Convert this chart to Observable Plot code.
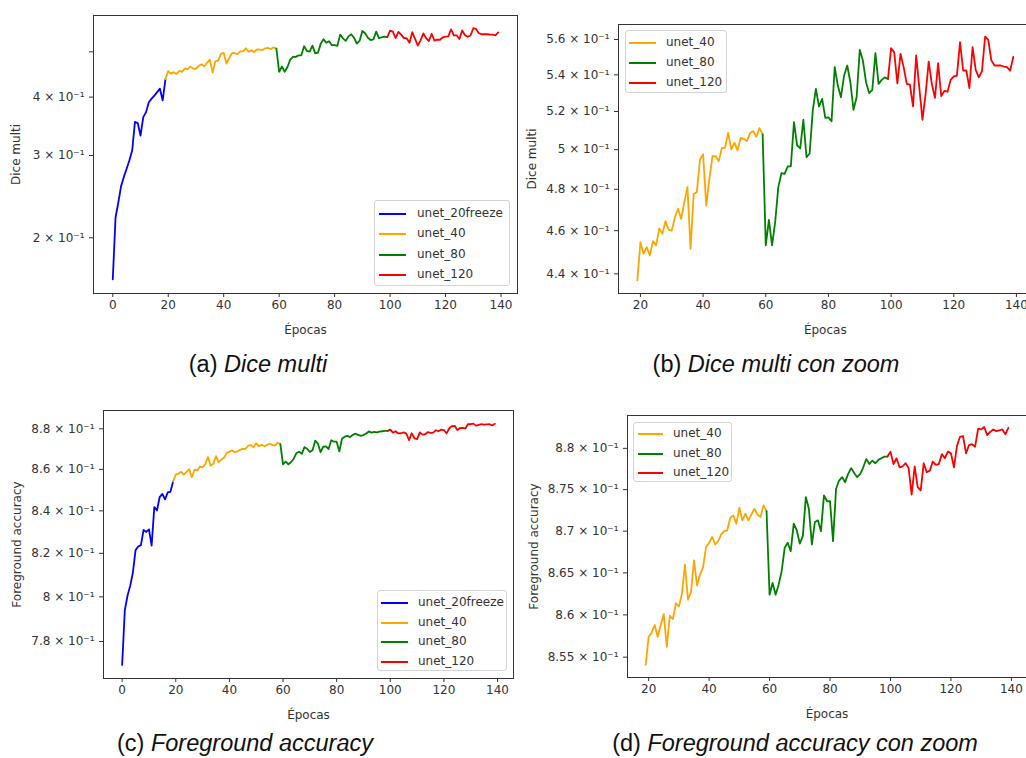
<!DOCTYPE html>
<html>
<head>
<meta charset="utf-8">
<script src="https://cdn.jsdelivr.net/npm/d3@7"></script>
<script src="https://cdn.jsdelivr.net/npm/@observablehq/plot@0.6"></script>
<style>
html,body{margin:0;padding:0;background:#fff;width:1026px;height:758px;overflow:hidden;}
#root{position:relative;width:1026px;height:758px;overflow:hidden;background:#fff;}
.panel{position:absolute;}
.panel svg{max-width:none !important;}
.legend{position:absolute;box-sizing:border-box;border:1px solid #d4d4d4;border-radius:3px;background:rgba(255,255,255,0.85);font-family:"DejaVu Sans";font-size:12px;color:#333;}
.legend .sw{position:absolute;height:2px;}
.legend .lt{position:absolute;line-height:14px;white-space:nowrap;}
.caption{position:absolute;font-family:"Liberation Sans";font-size:23.5px;line-height:28px;color:#111;white-space:nowrap;transform:translateX(-50%);}
</style>
</head>
<body>
<div id="root"></div>
<script>
// ---------- data ----------
const seriesNames = ["unet_20freeze", "unet_40", "unet_80", "unet_120"];
const seriesColors = ["blue", "orange", "green", "red"];
const seriesStart = [0, 19, 59, 99];

const xTicks = [0, 20, 40, 60, 80, 100, 120, 140];

// Dice multi
const diceFreeze = [0.163, 0.221, 0.238, 0.258, 0.270, 0.281, 0.293, 0.3075, 0.354, 0.352, 0.331, 0.3625, 0.3715, 0.390, 0.397, 0.403, 0.410, 0.417, 0.3935, 0.437];
const dice40 = [0.4370, 0.4546, 0.4492, 0.4523, 0.4484, 0.4551, 0.4531, 0.4610, 0.4586, 0.4645, 0.4604, 0.4600, 0.4664, 0.4705, 0.4656, 0.4737, 0.4811, 0.4515, 0.4777, 0.4786, 0.4948, 0.4976, 0.4720, 0.4852, 0.4966, 0.4966, 0.4941, 0.5009, 0.5009, 0.5087, 0.5001, 0.5036, 0.4996, 0.5061, 0.5056, 0.5044, 0.5087, 0.5096, 0.5067, 0.5112, 0.5079];
const dice80 = [0.5079, 0.4531, 0.4651, 0.4531, 0.4640, 0.4811, 0.4880, 0.4877, 0.4914, 0.4915, 0.5143, 0.5022, 0.5006, 0.5156, 0.4961, 0.4980, 0.5206, 0.5322, 0.5227, 0.5268, 0.5166, 0.5169, 0.5148, 0.5443, 0.5341, 0.5277, 0.5396, 0.5452, 0.5359, 0.5209, 0.5277, 0.5541, 0.5480, 0.5359, 0.5299, 0.5317, 0.5522, 0.5350, 0.5372, 0.5386, 0.5377];
const dice120 = [0.5377, 0.5550, 0.5526, 0.5352, 0.5518, 0.5443, 0.5350, 0.5346, 0.5227, 0.5509, 0.5330, 0.5156, 0.5292, 0.5474, 0.5350, 0.5273, 0.5465, 0.5283, 0.5311, 0.5307, 0.5372, 0.5391, 0.5396, 0.5585, 0.5424, 0.5424, 0.5327, 0.5556, 0.5428, 0.5386, 0.5420, 0.5617, 0.5598, 0.5481, 0.5452, 0.5452, 0.5452, 0.5446, 0.5443, 0.5424, 0.5500];

// Foreground accuracy
const fgFreeze = [0.7697, 0.7940, 0.8005, 0.8050, 0.8110, 0.8215, 0.8232, 0.8238, 0.8310, 0.8300, 0.8312, 0.8236, 0.8418, 0.8402, 0.8466, 0.8481, 0.8455, 0.8488, 0.8491, 0.8541];
const fg40 = [0.8541, 0.8574, 0.8579, 0.8588, 0.8574, 0.8588, 0.8601, 0.8562, 0.8599, 0.8595, 0.8614, 0.8610, 0.8625, 0.8660, 0.8618, 0.8627, 0.8665, 0.8635, 0.8648, 0.8657, 0.8681, 0.8686, 0.8693, 0.8684, 0.8688, 0.8696, 0.8700, 0.8701, 0.8716, 0.8719, 0.8709, 0.8728, 0.8713, 0.8721, 0.8713, 0.8720, 0.8727, 0.8720, 0.8717, 0.8731, 0.8724];
const fg80 = [0.8724, 0.8624, 0.8638, 0.8624, 0.8636, 0.8652, 0.8680, 0.8686, 0.8676, 0.8709, 0.8701, 0.8685, 0.8694, 0.8741, 0.8727, 0.8684, 0.8711, 0.8713, 0.8700, 0.8743, 0.8736, 0.8736, 0.8688, 0.8751, 0.8761, 0.8765, 0.8759, 0.8769, 0.8776, 0.8770, 0.8765, 0.8769, 0.8777, 0.8787, 0.8781, 0.8785, 0.8782, 0.8786, 0.8788, 0.8790, 0.8790];
const fg120 = [0.8790, 0.8796, 0.8781, 0.8788, 0.8777, 0.8778, 0.8782, 0.8776, 0.8744, 0.8778, 0.8753, 0.8749, 0.8782, 0.8771, 0.8773, 0.8784, 0.8780, 0.8781, 0.8793, 0.8788, 0.8796, 0.8794, 0.8777, 0.8803, 0.8814, 0.8815, 0.8794, 0.8804, 0.8805, 0.8802, 0.8824, 0.8823, 0.8826, 0.8816, 0.8820, 0.8823, 0.8821, 0.8822, 0.8823, 0.8817, 0.8825];

// y tick values and labels
const diceTicksA = [0.2, 0.3, 0.4];
const diceLabelsA = ["2 × 10⁻¹", "3 × 10⁻¹", "4 × 10⁻¹"];
const diceMinorA = [0.5];
const diceTicksB = [0.44, 0.46, 0.48, 0.50, 0.52, 0.54, 0.56];
const diceLabelsB = ["4.4 × 10⁻¹", "4.6 × 10⁻¹", "4.8 × 10⁻¹", "5 × 10⁻¹", "5.2 × 10⁻¹", "5.4 × 10⁻¹", "5.6 × 10⁻¹"];
const fgTicksC = [0.78, 0.80, 0.82, 0.84, 0.86, 0.88];
const fgLabelsC = ["7.8 × 10⁻¹", "8 × 10⁻¹", "8.2 × 10⁻¹", "8.4 × 10⁻¹", "8.6 × 10⁻¹", "8.8 × 10⁻¹"];
const fgTicksD = [0.855, 0.86, 0.865, 0.87, 0.875, 0.88];
const fgLabelsD = ["8.55 × 10⁻¹", "8.6 × 10⁻¹", "8.65 × 10⁻¹", "8.7 × 10⁻¹", "8.75 × 10⁻¹", "8.8 × 10⁻¹"];

const captions = [
  ["(a) ", "Dice multi"],
  ["(b) ", "Dice multi con zoom"],
  ["(c) ", "Foreground accuracy"],
  ["(d) ", "Foreground accuracy con zoom"]
];

// ---------- helpers ----------
const root = document.getElementById("root");
const toRows = (vals, si) => vals.map((v, i) => ({epoch: seriesStart[si] + i, value: v}));

function panel(o) {
  const xt = xTicks.filter(t => t >= o.xDomain[0] && t <= o.xDomain[1]);
  const marks = [Plot.frame({stroke: "#333", strokeWidth: 1})];
  marks.push(Plot.axisX({ticks: xt, tickSize: 4, tickPadding: 3, fontSize: 12,
    label: "Épocas", labelAnchor: "center", labelArrow: "none", labelOffset: o.xLabelOffset}));
  marks.push(Plot.axisY({ticks: o.yTicks.concat(o.yMinor || []), tickFormat: () => "", tickSize: 4, fontSize: 12,
    label: o.ylabel, labelAnchor: "center", labelArrow: "none", labelOffset: o.yLabelOffset}));
  marks.push(Plot.text(o.yTicks, {y: d => d, text: (d, i) => o.yLabels[i], frameAnchor: "left",
    textAnchor: "end", dx: -9, fontSize: 12, fill: "#333"}));
  o.series.forEach(([vals, si]) => {
    marks.push(Plot.line(toRows(vals, si), {x: "epoch", y: "value", stroke: seriesColors[si], strokeWidth: 1.8}));
  });
  const svg = Plot.plot({
    width: o.width, height: o.height,
    marginTop: o.mt, marginRight: o.mr, marginBottom: o.mb, marginLeft: o.ml,
    x: {domain: o.xDomain},
    y: {type: "log", domain: o.yDomain},
    style: {fontFamily: "DejaVu Sans", fontSize: "12px", color: "#333", background: "transparent", overflow: "visible", maxWidth: "none"},
    marks
  });
  const div = document.createElement("div");
  div.className = "panel";
  div.style.left = o.left + "px";
  div.style.top = o.top + "px";
  div.style.width = o.width + "px";
  div.style.height = o.height + "px";
  div.appendChild(svg);
  root.appendChild(div);
}

function legend(o) {
  const box = document.createElement("div");
  box.className = "legend";
  Object.assign(box.style, {left: o.left + "px", top: o.top + "px", width: o.w + "px", height: o.h + "px"});
  o.items.forEach((si, k) => {
    const cy = o.first + k * o.step;
    const sw = document.createElement("div");
    sw.className = "sw";
    Object.assign(sw.style, {left: o.lx + "px", width: o.ll + "px", top: (cy - 1) + "px", background: seriesColors[si]});
    const t = document.createElement("div");
    t.className = "lt";
    t.textContent = seriesNames[si];
    Object.assign(t.style, {left: o.tx + "px", top: (cy - 8) + "px"});
    box.appendChild(sw);
    box.appendChild(t);
  });
  root.appendChild(box);
}

function caption(k, cx, top) {
  const d = document.createElement("div");
  d.className = "caption";
  d.style.left = cx + "px";
  d.style.top = top + "px";
  const a = document.createElement("span");
  a.textContent = captions[k][0];
  const b = document.createElement("i");
  b.textContent = captions[k][1];
  d.appendChild(a); d.appendChild(b);
  root.appendChild(d);
}

// ---------- panels ----------
panel({left: 0, top: 0, width: 530, height: 340, mt: 15, mr: 13, mb: 47, ml: 93,
  xDomain: [-6.95, 145.95], yDomain: [0.152, 0.598],
  yTicks: diceTicksA, yLabels: diceLabelsA, yMinor: diceMinorA,
  ylabel: "Dice multi", yLabelOffset: 82, xLabelOffset: 40,
  series: [[diceFreeze, 0], [dice40, 1], [dice80, 2], [dice120, 3]]});

panel({left: 520, top: 0, width: 520, height: 340, mt: 24, mr: 8.4, mb: 47, ml: 98,
  xDomain: [13, 145], yDomain: [0.4312, 0.5687],
  yTicks: diceTicksB, yLabels: diceLabelsB,
  ylabel: "Dice multi", yLabelOffset: 91, xLabelOffset: 40,
  series: [[dice40, 1], [dice80, 2], [dice120, 3]]});

panel({left: 0, top: 380, width: 530, height: 345, mt: 30, mr: 17, mb: 47, ml: 103,
  xDomain: [-6.95, 145.95], yDomain: [0.7638, 0.8892],
  yTicks: fgTicksC, yLabels: fgLabelsC,
  ylabel: "Foreground accuracy", yLabelOffset: 91, xLabelOffset: 40,
  series: [[fgFreeze, 0], [fg40, 1], [fg80, 2], [fg120, 3]]});

panel({left: 520, top: 380, width: 520, height: 345, mt: 35, mr: 14, mb: 48, ml: 107,
  xDomain: [13, 145], yDomain: [0.8526, 0.884],
  yTicks: fgTicksD, yLabels: fgLabelsD,
  ylabel: "Foreground accuracy", yLabelOffset: 98, xLabelOffset: 40,
  series: [[fg40, 1], [fg80, 2], [fg120, 3]]});

// ---------- legends ----------
legend({left: 374, top: 200, w: 136, h: 86, items: [0, 1, 2, 3], first: 13, step: 20.3, lx: 4, ll: 27, tx: 42});
legend({left: 625, top: 30, w: 102, h: 63, items: [1, 2, 3], first: 12, step: 20, lx: 3, ll: 27, tx: 40});
legend({left: 377, top: 590, w: 130, h: 81, items: [0, 1, 2, 3], first: 12, step: 19.7, lx: 3, ll: 27, tx: 40});
legend({left: 633, top: 422, w: 99, h: 60, items: [1, 2, 3], first: 11, step: 19.5, lx: 4, ll: 25, tx: 39});

// ---------- captions ----------
caption(0, 258, 350);
caption(1, 776, 350);
caption(2, 245, 729);
caption(3, 795, 729);
</script>
</body>
</html>
